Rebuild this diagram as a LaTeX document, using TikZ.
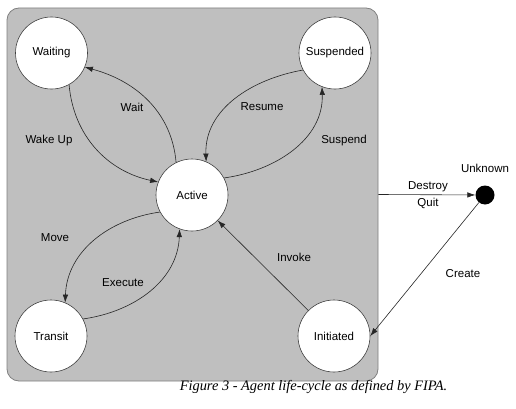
\documentclass[tikz,border=0pt]{standalone}
\usepackage{fontspec}
\setmainfont{Liberation Sans}
\newfontfamily\capfont{Liberation Serif}
\usetikzlibrary{arrows.meta}
\tikzset{>={Latex[length=8pt,width=5.5pt]}}
\colorlet{boxgray}{black!25}
\colorlet{boxline}{black!50}
\colorlet{ringline}{black!75}
\tikzstyle{state}=[circle,draw=ringline,fill=white,line width=0.6,minimum size=72pt,inner sep=0pt,font=\fontsize{11.5}{12}\selectfont]
\tikzstyle{trans}=[->,line width=0.6,black!85]
\tikzstyle{lbl}=[font=\fontsize{11.5}{12}\selectfont,inner sep=0pt]
\begin{document}
\begin{tikzpicture}[x=1pt,y=1pt]
  \useasboundingbox (0,0) rectangle (516,408);
  \fill[white] (0,0) rectangle (516,408);

  % AGENT BOX
  \node[draw=boxline,fill=boxgray,rounded corners=12pt,line width=0.8,
        minimum width=371pt,minimum height=373pt,inner sep=0pt] (alive) at (192.5,213.5) {};

  % STATES
  \node[state] (waiting)   at (51.5,355) {Waiting};
  \node[state] (suspended) at (335,355)  {Suspended};
  \node[state] (active)    at (192,213)  {Active};
  \node[state] (transit)   at (51,72)    {Transit};
  \node[state] (initiated) at (334,72)   {Initiated};
  \node[circle,fill=black,minimum size=19pt,inner sep=0pt] (unknown) at (485,213) {};
  \node[lbl] (unknownlbl) at (485,240) {Unknown};

  % TRANSITIONS
  \draw[trans] (active.116) to[out=95,in=-15] (waiting.-23);
  \draw[trans] (waiting.-61) to[out=-85,in=168] (active.159);
  \draw[trans] (suspended.208) to[out=190,in=92] (active.67);
  \draw[trans] (active.28) to[out=8,in=-88] (suspended.249);
  \draw[trans] (active.208) to[out=188,in=88] (transit.67);
  \draw[trans] (transit.28) to[out=8,in=-92] (active.250);
  \draw[trans] (initiated) -- (active);
  \draw[trans] (alive.east) -- (unknown);
  \draw[trans] (unknown) -- (initiated.east);

  % LABELS
  \node[lbl] at (132,301) {Wait};
  \node[lbl] at (49,267)  {Wake Up};
  \node[lbl] at (262,301) {Resume};
  \node[lbl] at (344,267) {Suspend};
  \node[lbl] at (428,221) {Destroy};
  \node[lbl] at (428,205) {Quit};
  \node[lbl] at (55,170)  {Move};
  \node[lbl] at (123,125) {Execute};
  \node[lbl] at (294,151) {Invoke};
  \node[lbl] at (463,134) {Create};

  % CAPTION
  \node[inner sep=0pt,font=\capfont\itshape\fontsize{14.4}{16}\selectfont] (caption) at (313.5,21)
    {Figure 3 - Agent life-cycle as defined by FIPA.};
\end{tikzpicture}
\end{document}
